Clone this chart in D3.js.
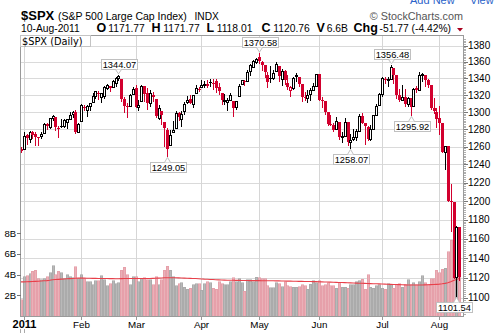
<!DOCTYPE html>
<html><head><meta charset="utf-8">
<script src="https://cdn.jsdelivr.net/npm/d3@7"></script>
<style>
html,body{margin:0;padding:0;background:#fff;overflow:hidden;}
svg{display:block;font-family:"Liberation Sans",Arial,sans-serif;}
</style></head><body>
<svg id="c" width="495" height="333"></svg>
<script>
// ---------------- DATA ----------------
const dates = [
"2010-12-31",
"2011-01-03","2011-01-04","2011-01-05","2011-01-06","2011-01-07","2011-01-10","2011-01-11","2011-01-12","2011-01-13","2011-01-14",
"2011-01-18","2011-01-19","2011-01-20","2011-01-21","2011-01-24","2011-01-25","2011-01-26","2011-01-27","2011-01-28","2011-01-31",
"2011-02-01","2011-02-02","2011-02-03","2011-02-04","2011-02-07","2011-02-08","2011-02-09","2011-02-10","2011-02-11","2011-02-14",
"2011-02-15","2011-02-16","2011-02-17","2011-02-18","2011-02-22","2011-02-23","2011-02-24","2011-02-25","2011-02-28",
"2011-03-01","2011-03-02","2011-03-03","2011-03-04","2011-03-07","2011-03-08","2011-03-09","2011-03-10","2011-03-11","2011-03-14",
"2011-03-15","2011-03-16","2011-03-17","2011-03-18","2011-03-21","2011-03-22","2011-03-23","2011-03-24","2011-03-25","2011-03-28",
"2011-03-29","2011-03-30","2011-03-31",
"2011-04-01","2011-04-04","2011-04-05","2011-04-06","2011-04-07","2011-04-08","2011-04-11","2011-04-12","2011-04-13","2011-04-14",
"2011-04-15","2011-04-18","2011-04-19","2011-04-20","2011-04-21","2011-04-25","2011-04-26","2011-04-27","2011-04-28","2011-04-29",
"2011-05-02","2011-05-03","2011-05-04","2011-05-05","2011-05-06","2011-05-09","2011-05-10","2011-05-11","2011-05-12","2011-05-13",
"2011-05-16","2011-05-17","2011-05-18","2011-05-19","2011-05-20","2011-05-23","2011-05-24","2011-05-25","2011-05-26","2011-05-27","2011-05-31",
"2011-06-01","2011-06-02","2011-06-03","2011-06-06","2011-06-07","2011-06-08","2011-06-09","2011-06-10","2011-06-13","2011-06-14",
"2011-06-15","2011-06-16","2011-06-17","2011-06-20","2011-06-21","2011-06-22","2011-06-23","2011-06-24","2011-06-27","2011-06-28",
"2011-06-29","2011-06-30",
"2011-07-01","2011-07-05","2011-07-06","2011-07-07","2011-07-08","2011-07-11","2011-07-12","2011-07-13","2011-07-14","2011-07-15",
"2011-07-18","2011-07-19","2011-07-20","2011-07-21","2011-07-22","2011-07-25","2011-07-26","2011-07-27","2011-07-28","2011-07-29",
"2011-08-01","2011-08-02","2011-08-03","2011-08-04","2011-08-05","2011-08-08","2011-08-09","2011-08-10"
];
const prevCloseBefore = 1258.51;
const opens = [
1256.76,
1257.62,1272.95,1268.78,1276.29,1274.41,1270.84,1272.58,1275.65,1285.78,1282.90,1293.22,1294.52,1280.85,1283.63,1283.29,1288.17,1291.97,1297.51,1299.63,1276.50,
1289.14,1305.91,1302.77,1307.01,1311.85,1318.76,1322.48,1318.13,1318.66,1328.73,1330.43,1329.51,1334.37,1340.38,1338.91,1315.44,1307.09,1307.34,1321.61,
1328.64,1305.47,1312.37,1330.73,1322.72,1311.05,1319.92,1315.72,1293.43,1301.19,1288.46,1279.46,1261.61,1276.71,1281.65,1298.29,1292.19,1300.61,1311.80,1315.45,1309.37,1321.89,1327.44,
1329.48,1332.03,1332.03,1335.94,1334.82,1336.16,1329.01,1321.96,1314.03,1311.13,1314.54,1313.35,1305.99,1319.12,1333.23,1337.14,1336.75,1348.43,1353.86,1360.14,
1365.21,1359.76,1355.90,1344.16,1340.24,1340.20,1348.34,1354.51,1339.39,1348.69,1334.77,1326.10,1328.54,1342.40,1342.00,1333.07,1317.70,1316.36,1320.64,1325.69,1331.10,
1345.20,1314.55,1312.94,1300.26,1286.31,1284.63,1279.63,1288.26,1271.31,1272.22,1287.87,1265.53,1268.58,1271.50,1278.40,1295.48,1286.60,1283.04,1268.44,1280.21,1296.85,1307.64,
1320.64,1339.59,1337.56,1339.62,1352.39,1343.31,1319.61,1314.45,1317.74,1308.87,1315.94,1307.07,1328.66,1325.65,1343.80,1344.32,1337.39,1331.91,1304.84,1300.12,
1292.59,1286.56,1254.25,1260.23,1200.28,1198.48,1120.23,1171.77
];
const highs = [
1259.34,
1276.17,1274.12,1277.63,1278.17,1276.83,1271.52,1277.25,1286.87,1286.70,1293.24,1296.06,1294.60,1283.35,1291.21,1291.93,1291.26,1299.74,1301.29,1302.67,1287.17,
1308.86,1307.61,1308.60,1311.00,1322.85,1324.87,1324.54,1322.76,1330.79,1332.96,1330.43,1337.61,1341.50,1344.07,1338.91,1317.91,1310.91,1320.61,1329.38,
1332.09,1314.19,1332.28,1331.08,1327.68,1325.74,1323.21,1315.72,1308.35,1301.19,1288.46,1280.91,1278.88,1288.88,1300.58,1299.35,1300.51,1311.34,1319.18,1319.74,1319.45,1331.74,1329.77,
1337.85,1336.74,1338.21,1339.38,1338.80,1339.46,1333.77,1321.96,1321.35,1316.79,1322.88,1313.35,1312.70,1332.66,1337.49,1337.55,1349.55,1357.49,1361.71,1364.56,
1370.58,1360.84,1355.90,1348.00,1354.36,1349.44,1359.44,1354.51,1351.05,1350.47,1343.33,1330.42,1341.82,1346.82,1342.00,1333.07,1323.72,1325.86,1328.51,1334.62,1345.20,
1345.20,1318.03,1312.94,1300.26,1296.22,1287.04,1294.54,1288.26,1277.04,1292.50,1287.87,1274.11,1279.82,1280.42,1297.62,1298.61,1286.60,1283.93,1284.91,1296.80,1309.21,1321.97,
1341.01,1340.89,1340.94,1356.48,1352.39,1343.31,1327.17,1331.48,1326.88,1317.70,1315.94,1328.14,1330.43,1347.00,1346.10,1344.32,1338.51,1331.91,1316.32,1304.16,
1307.38,1286.56,1261.20,1260.23,1218.11,1198.48,1172.88,1171.77
];
const lows = [
1254.19,
1257.62,1262.66,1265.36,1270.43,1261.70,1262.18,1269.62,1275.65,1280.47,1281.24,1290.16,1278.92,1271.26,1282.07,1282.47,1281.07,1291.97,1294.41,1275.10,1276.50,
1289.14,1302.62,1294.83,1301.67,1311.85,1316.03,1314.89,1311.74,1316.08,1326.90,1324.61,1329.51,1331.00,1338.12,1312.33,1299.55,1294.26,1307.34,1320.55,
1305.34,1302.58,1312.37,1312.59,1303.99,1306.86,1312.27,1294.21,1291.99,1286.37,1261.12,1249.05,1261.61,1276.18,1281.65,1291.01,1284.05,1297.74,1310.15,1310.19,1305.26,1321.89,1325.03,
1328.89,1329.10,1330.03,1331.09,1326.56,1322.94,1321.06,1309.51,1309.19,1302.42,1313.68,1294.70,1303.97,1319.12,1332.82,1331.47,1336.75,1344.25,1353.60,1358.69,
1358.59,1349.52,1341.50,1329.17,1335.58,1338.64,1348.34,1336.36,1332.03,1333.36,1327.32,1318.51,1326.59,1336.36,1330.67,1312.88,1313.87,1311.80,1314.41,1325.69,1331.10,
1313.71,1305.61,1297.90,1284.72,1284.74,1277.42,1279.63,1268.28,1265.64,1272.22,1261.90,1258.07,1267.40,1267.56,1278.40,1286.79,1262.87,1267.24,1267.53,1280.21,1296.85,1307.64,
1318.18,1334.30,1330.92,1339.62,1333.71,1316.42,1313.33,1314.45,1306.51,1307.52,1295.92,1307.07,1323.65,1325.65,1336.95,1331.09,1329.10,1303.49,1299.16,1282.86,
1274.73,1254.03,1234.56,1199.54,1168.09,1119.28,1101.54,1118.01
];
const closes = [
1257.64,
1271.87,1270.20,1276.56,1273.85,1271.50,1269.75,1274.48,1285.96,1283.76,1293.24,1295.02,1281.92,1280.26,1283.35,1290.84,1291.18,1296.63,1299.54,1276.34,1286.12,
1307.59,1304.03,1307.10,1310.87,1319.05,1324.57,1320.88,1321.87,1329.15,1332.32,1328.01,1336.32,1340.43,1343.01,1315.44,1307.40,1306.10,1319.88,1327.22,
1306.33,1308.44,1330.97,1321.15,1310.13,1321.82,1320.02,1295.11,1304.28,1296.39,1281.87,1256.88,1273.72,1279.21,1298.38,1293.77,1297.54,1309.66,1313.80,1310.19,1319.44,1328.26,1325.83,
1332.41,1332.87,1332.63,1335.54,1333.51,1328.17,1324.46,1314.16,1314.41,1314.52,1319.68,1305.14,1312.62,1330.36,1337.38,1335.25,1347.24,1355.66,1360.48,1363.61,
1361.22,1356.62,1347.32,1335.10,1340.20,1346.29,1357.16,1342.08,1348.65,1337.77,1329.47,1328.98,1340.68,1343.60,1333.27,1317.37,1316.28,1320.47,1325.69,1331.10,1345.20,
1314.55,1312.94,1300.16,1286.17,1284.94,1279.56,1289.00,1270.98,1271.83,1287.87,1265.42,1267.64,1271.50,1278.36,1295.52,1287.14,1283.50,1268.45,1280.10,1296.67,1307.41,1320.64,
1339.67,1337.88,1339.22,1353.22,1343.80,1319.49,1313.64,1317.72,1308.87,1316.14,1305.44,1326.73,1325.84,1343.80,1345.02,1337.43,1331.94,1304.89,1300.67,1292.28,
1286.94,1254.05,1260.34,1200.07,1199.38,1119.46,1172.53,1120.76
];
// volume in billions
const volumes = [
1.55,
3.8,3.9,4.1,4.3,4.4,3.6,3.5,3.6,3.8,4.2,4.85,4.0,4.3,4.2,3.6,4.0,3.8,3.7,4.75,3.6,
4.0,3.6,3.3,3.3,3.0,3.4,3.4,3.9,3.5,2.9,3.1,3.4,3.1,3.2,4.4,4.7,4.0,3.0,3.8,
3.8,3.3,3.6,3.7,3.5,3.5,3.0,3.8,3.0,3.5,4.4,4.8,4.4,3.8,2.9,3.1,3.2,2.8,2.6,2.7,3.0,3.1,3.1,
2.5,3.1,3.3,3.2,2.7,2.6,3.3,3.1,3.0,3.0,3.3,3.7,3.3,3.6,3.2,2.4,3.5,3.5,3.3,3.75,
3.7,3.6,3.6,2.9,2.75,2.75,3.2,3.1,2.85,3.3,2.9,2.85,2.8,2.8,2.85,3.0,2.9,2.6,3.05,3.4,3.2,
3.4,2.9,3.0,3.2,2.9,2.9,2.7,3.2,2.8,2.8,2.7,3.0,3.0,3.3,3.4,3.55,2.6,4.0,2.8,2.7,2.9,3.0,
2.7,2.6,3.1,3.0,2.7,3.0,3.1,2.8,3.0,3.5,3.0,3.2,3.0,3.3,3.9,3.2,3.0,3.6,3.6,4.4,
4.2,4.5,4.6,6.2,7.3,7.5,7.2,6.6
];
// 50-day volume moving average (billions)
const volumeMA = [
3.30,
3.30,3.31,3.32,3.33,3.35,3.36,3.38,3.40,3.42,3.45,3.50,3.52,3.54,3.56,3.58,3.60,3.61,3.62,3.65,3.66,
3.66,3.66,3.65,3.65,3.64,3.64,3.63,3.63,3.62,3.62,3.61,3.61,3.60,3.60,3.61,3.62,3.62,3.62,3.62,
3.62,3.62,3.63,3.63,3.63,3.63,3.64,3.65,3.66,3.67,3.69,3.70,3.70,3.70,3.69,3.68,3.67,3.66,3.65,3.64,3.63,3.62,3.60,
3.58,3.56,3.55,3.53,3.52,3.50,3.49,3.48,3.47,3.46,3.45,3.45,3.44,3.44,3.43,3.43,3.43,3.42,3.42,3.42,
3.42,3.41,3.41,3.40,3.40,3.40,3.39,3.39,3.38,3.38,3.37,3.37,3.36,3.36,3.35,3.35,3.34,3.34,3.33,3.32,3.32,
3.31,3.30,3.29,3.28,3.27,3.26,3.25,3.24,3.23,3.22,3.21,3.20,3.19,3.18,3.17,3.16,3.15,3.14,3.13,3.12,3.11,3.10,
3.09,3.08,3.07,3.06,3.05,3.04,3.03,3.02,3.01,3.00,3.00,3.00,3.00,3.00,3.00,3.01,3.02,3.03,3.04,3.06,
3.08,3.11,3.15,3.22,3.31,3.42,3.53,3.62
];
const priceTicks = [1100,1120,1140,1160,1180,1200,1220,1240,1260,1280,1300,1320,1340,1360,1380];
const volumeTicks = [2,4,6,8];
const volumeTickLabels = ["2B","4B","6B","8B"];
const monthStarts = ["2011-01-03","2011-02-01","2011-03-01","2011-04-01","2011-05-02","2011-06-01","2011-07-01","2011-08-01"];
const monthLabels = ["2011","Feb","Mar","Apr","May","Jun","Jul","Aug"];
const callouts = [
  {date:"2011-02-18", value:1344.07, side:"above"},
  {date:"2011-03-16", value:1249.05, side:"below"},
  {date:"2011-05-02", value:1370.58, side:"above"},
  {date:"2011-06-16", value:1258.07, side:"below"},
  {date:"2011-07-07", value:1356.48, side:"above"},
  {date:"2011-07-18", value:1295.92, side:"below"},
  {date:"2011-08-09", value:1101.54, side:"below"}
];

// ---------------- DRAW ----------------
const svg = d3.select("#c");
const L = 20.5, R = 463.5, T = 35.5, B = 316.5;
const RED = "#d2002e";

const x = d3.scalePoint().domain(dates).range([21, 459.3]);
const y = d3.scaleLog().domain([1100, 1380]).range([297.7, 45.5]);
const yv = d3.scaleLinear().domain([0, 8]).range([316, 233.2]);

const rows = dates.map((d, i) => ({
  date: d, o: opens[i], h: highs[i], l: lows[i], c: closes[i], v: volumes[i], ma: volumeMA[i],
  prev: i === 0 ? prevCloseBefore : closes[i - 1]
}));

// header
svg.append("text").attr("x", 410).attr("y", 3.5).attr("font-size", 11).attr("fill", "#2a62c9").text("Add New");
svg.append("text").attr("x", 470).attr("y", 3.5).attr("font-size", 11).attr("fill", "#2a62c9").text("View");
svg.append("text").attr("x", 21).attr("y", 20).attr("font-size", 13).attr("font-weight", "bold").text("$SPX");
svg.append("text").attr("x", 58).attr("y", 19.5).attr("font-size", 10.5).text("(S&P 500 Large Cap Index)");
svg.append("text").attr("x", 194.5).attr("y", 19.5).attr("font-size", 10.2).text("INDX");
svg.append("text").attr("x", 463).attr("y", 19.5).attr("font-size", 10.8).attr("fill", "#555").attr("text-anchor", "end").text("\u00A9 StockCharts.com");

const hdr = [
  {t:"10-Aug-2011", x:21, b:false},
  {t:"O", x:96.5, b:true}, {t:"1171.77", x:108.3, b:false},
  {t:"H", x:151.5, b:true}, {t:"1171.77", x:163.3, b:false},
  {t:"L", x:206.5, b:true}, {t:"1118.01", x:216.7, b:false},
  {t:"C", x:261.5, b:true}, {t:"1120.76", x:273.3, b:false},
  {t:"V", x:316.5, b:true}, {t:"6.6B", x:326.7, b:false},
  {t:"Chg", x:353.5, b:true}, {t:"-51.77 (-4.42%)", x:379.5, b:false}
];
hdr.forEach(h => svg.append("text").attr("x", h.x).attr("y", 32.3)
  .attr("font-size", h.b ? 12.5 : 10.3).attr("font-weight", h.b ? "bold" : "normal").text(h.t));
svg.append("path").attr("d", "M457,28 L463,28 L460,31.5 Z").attr("fill", "#a8001e");

// plot background
svg.append("rect").attr("x", L).attr("y", T).attr("width", R - L).attr("height", B - T).attr("fill", "#fff");

// gridlines
const grid = svg.append("g").attr("shape-rendering", "crispEdges");
grid.selectAll("line.h").data(priceTicks).join("line")
  .attr("x1", L).attr("x2", R).attr("y1", d => Math.round(y(d)) + 0.5).attr("y2", d => Math.round(y(d)) + 0.5)
  .attr("stroke", "#dadada");
grid.selectAll("line.v").data(monthStarts).join("line")
  .attr("x1", d => Math.round(x(d)) + 0.5).attr("x2", d => Math.round(x(d)) + 0.5).attr("y1", T).attr("y2", B)
  .attr("stroke", "#d6d6d6");

// volume bars
const vol = svg.append("g").attr("shape-rendering", "crispEdges");
vol.selectAll("rect").data(rows).join("rect")
  .attr("x", d => Math.round(x(d.date)) - 1)
  .attr("y", d => yv(d.v))
  .attr("width", 2.6)
  .attr("height", d => yv(0) - yv(d.v))
  .attr("fill", d => d.c < d.prev ? "#eab1b8" : "#b9b9b9")
  .attr("stroke", d => d.c < d.prev ? "#e2909b" : "#9d9d9d")
  .attr("stroke-width", 0.5);

// volume MA
svg.append("path").datum(rows)
  .attr("d", d3.line().x(d => x(d.date)).y(d => yv(d.ma)))
  .attr("fill", "none").attr("stroke", "#e8404a").attr("stroke-width", 1.1);

// candles
const cg = svg.append("g").attr("shape-rendering", "crispEdges");
rows.forEach(d => {
  const cx = Math.round(x(d.date));
  const col = d.c < d.prev ? RED : "#000";
  cg.append("line").attr("x1", cx + 0.5).attr("x2", cx + 0.5)
    .attr("y1", Math.round(y(d.h))).attr("y2", Math.round(y(d.l)) + 1).attr("stroke", col);
  const yT = Math.round(y(Math.max(d.o, d.c)));
  const yB = Math.round(y(Math.min(d.o, d.c)));
  if (d.c > d.o) {
    cg.append("rect").attr("x", cx - 0.5).attr("y", yT + 0.5).attr("width", 2)
      .attr("height", Math.max(1, yB - yT)).attr("fill", "#fff").attr("stroke", col);
  } else {
    cg.append("rect").attr("x", cx - 1).attr("y", yT).attr("width", 3)
      .attr("height", Math.max(1, yB - yT)).attr("fill", col);
  }
});

// frame
svg.append("rect").attr("x", L).attr("y", T).attr("width", R - L).attr("height", B - T)
  .attr("fill", "none").attr("stroke", "#9a9a9a").attr("shape-rendering", "crispEdges");

// legend box
svg.append("rect").attr("x", L).attr("y", T).attr("width", 70).attr("height", 10.5)
  .attr("fill", "#fff").attr("stroke", "#c4c4c4").attr("shape-rendering", "crispEdges");
svg.append("text").attr("x", 22).attr("y", 44.5).attr("font-family", "DejaVu Sans").attr("font-size", 9.8).text("$SPX (Daily)");

// right axis
const ax = svg.append("g").attr("shape-rendering", "crispEdges");
const minor = d3.range(1084, 1390, 2);
ax.selectAll("line.mn").data(minor).join("line")
  .attr("x1", R).attr("x2", R + 2).attr("y1", d => Math.round(y(d)) + 0.5).attr("y2", d => Math.round(y(d)) + 0.5)
  .attr("stroke", "#b0b0b0");
ax.selectAll("line.mj").data(priceTicks).join("line")
  .attr("x1", R).attr("x2", R + 4).attr("y1", d => Math.round(y(d)) + 0.5).attr("y2", d => Math.round(y(d)) + 0.5)
  .attr("stroke", "#777");
svg.selectAll("text.pt").data(priceTicks).join("text")
  .attr("x", 468).attr("y", d => y(d) + 3.6).attr("font-size", 10).text(d => d);

// left volume axis
volumeTicks.forEach((v, i) => {
  svg.append("line").attr("x1", 17).attr("x2", L).attr("y1", Math.round(yv(v)) + 0.5).attr("y2", Math.round(yv(v)) + 0.5)
    .attr("stroke", "#777").attr("shape-rendering", "crispEdges");
  svg.append("text").attr("x", 16).attr("y", yv(v) + 3.5).attr("font-size", 9.5).attr("text-anchor", "end").text(volumeTickLabels[i]);
});

// bottom axis
monthStarts.forEach((m, i) => {
  const mx = Math.round(x(m)) + 0.5;
  svg.append("line").attr("x1", mx).attr("x2", mx).attr("y1", B).attr("y2", B + 3.5)
    .attr("stroke", "#999").attr("shape-rendering", "crispEdges");
  svg.append("text").attr("x", mx).attr("y", 327.5).attr("text-anchor", "middle")
    .attr("font-size", i === 0 ? 11 : 9.8).attr("font-weight", i === 0 ? "bold" : "normal").text(monthLabels[i]);
});
svg.append("line").attr("x1", 20.5).attr("x2", 20.5).attr("y1", 329).attr("y2", 333).attr("stroke", "#aaa");
svg.append("line").attr("x1", Math.round(x(monthStarts[0])) + 0.5).attr("x2", Math.round(x(monthStarts[0])) + 0.5)
  .attr("y1", 329).attr("y2", 333).attr("stroke", "#aaa");

// callouts
callouts.forEach(c => {
  const px = Math.round(x(c.date)) + 0.5;
  const py = y(c.value);
  const w = 36, h = 10;
  let bx = px - w / 2;
  if (bx + w > 472) bx = 472 - w;
  const by = c.side === "above" ? Math.round(py - 6 - h) + 0.5 : Math.round(py + 6) + 0.5;
  const ty = c.side === "above" ? by + h : by;
  const tip = c.side === "above" ? py - 1 : py + 1;
  svg.append("rect").attr("x", Math.round(bx) + 0.5).attr("y", by).attr("width", w).attr("height", h)
    .attr("fill", "#fff").attr("stroke", "#c0c0c0");
  svg.append("path").attr("d", `M${px - 3},${ty} L${px},${tip} L${px + 3},${ty}`)
    .attr("fill", "#fff").attr("stroke", "#c0c0c0");
  svg.append("text").attr("x", Math.round(bx) + 0.5 + w / 2).attr("y", by + h - 1.5)
    .attr("text-anchor", "middle").attr("font-size", 9.3).text(c.value.toFixed(2));
});
</script>
</body></html>
